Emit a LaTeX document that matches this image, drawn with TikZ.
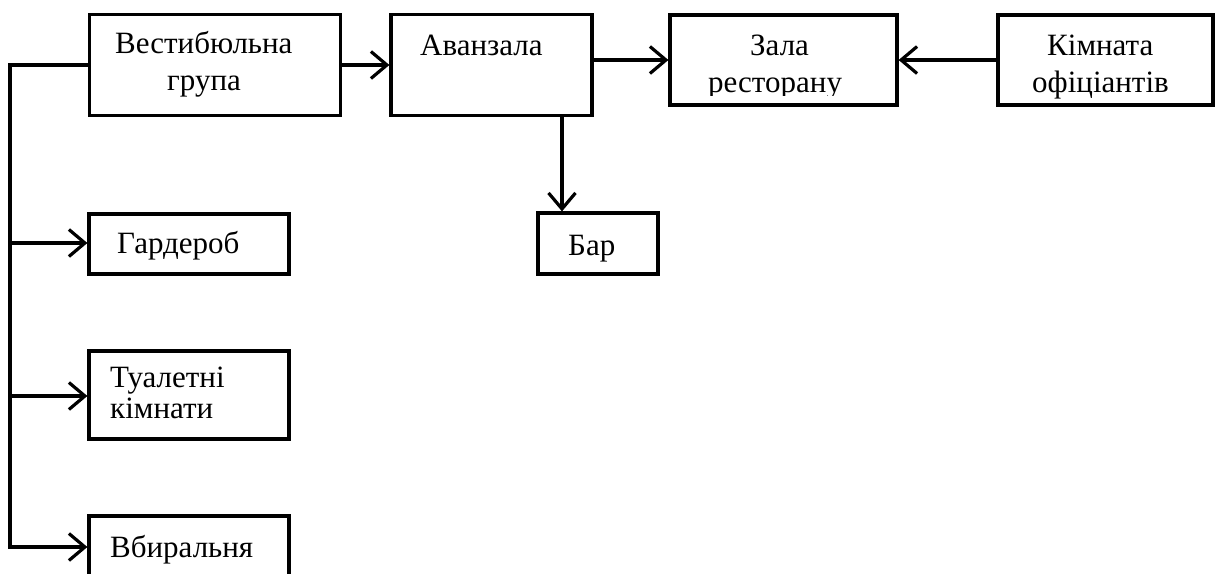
\documentclass[tikz,border=0pt]{standalone}
\usepackage{fontspec}
\setmainfont{Liberation Serif}
\usetikzlibrary{arrows.meta}
\tikzset{
  box/.style={draw, line width=3.2pt, inner sep=0pt, rectangle},
  txt/.style={inner sep=0pt, anchor=base west, font=\fontsize{31}{37}\selectfont},
  conn/.style={line width=3.2pt},
  arr/.style={line width=3.2pt, -{Straight Barb[length=16pt,width=27pt,line width=3.2pt]}}
}
\begin{document}
\begin{tikzpicture}[x=1pt,y=-1pt]
\useasboundingbox (0,0) rectangle (1215,573);
% boxes
\node[box, minimum width=251pt, minimum height=101pt] (ves) at (215,65) {};
\node[box, minimum width=201pt, minimum height=101pt] (avan) at (491.5,65) {};
\node[box, minimum width=227pt, minimum height=90pt] (zala) at (783.5,60) {};
\node[box, minimum width=215pt, minimum height=90pt] (kimn) at (1105.5,60) {};
\node[box, minimum width=120pt, minimum height=61pt] (bar) at (598,243.5) {};
\node[box, minimum width=200pt, minimum height=60pt] (gard) at (189,244) {};
\node[box, minimum width=200pt, minimum height=88pt] (tual) at (189,395) {};
\node[box, minimum width=200pt, minimum height=80pt] (vbyr) at (189,556) {};
% texts
\node[txt] (t1) at (115,53) {Вестибюльна};
\node[txt] (t2) at (167,90) {група};
\node[txt] (t3) at (420,55) {Аванзала};
\node[txt] (t4) at (750,55) {Зала};
\begin{scope}
\clip (670,15) rectangle (897,95);
\node[txt] (t5) at (708,92) {ресторану};
\end{scope}
\node[txt] (t6) at (1047,55) {Кімната};
\node[txt] (t7) at (1032,92) {офіціантів};
\node[txt] (t8) at (568,255) {Бар};
\node[txt] (t9) at (117,253) {Гардероб};
\node[txt] (t10) at (110,387) {Туалетні};
\node[txt] (t11) at (110,418) {кімнати};
\node[txt] (t12) at (110,557) {Вбиральня};
% junction coordinates
\coordinate (j1) at (10,243);
\coordinate (j2) at (10,396);
\coordinate (j3) at (10,547);
\coordinate (bx) at (562,0);
% connectors
\draw[arr] (ves.west) -| (j3) -- (j3 -| vbyr.west);
\draw[arr] (j1) -- (j1 -| gard.west);
\draw[arr] (j2) -- (j2 -| tual.west);
\draw[arr] (ves.east) -- (avan.west);
\draw[arr] (avan.east |- zala.west) -- (zala.west);
\draw[arr] (kimn.west) -- (zala.east);
\draw[arr] (avan.south -| bx) -- (bar.north -| bx);
\end{tikzpicture}
\end{document}
